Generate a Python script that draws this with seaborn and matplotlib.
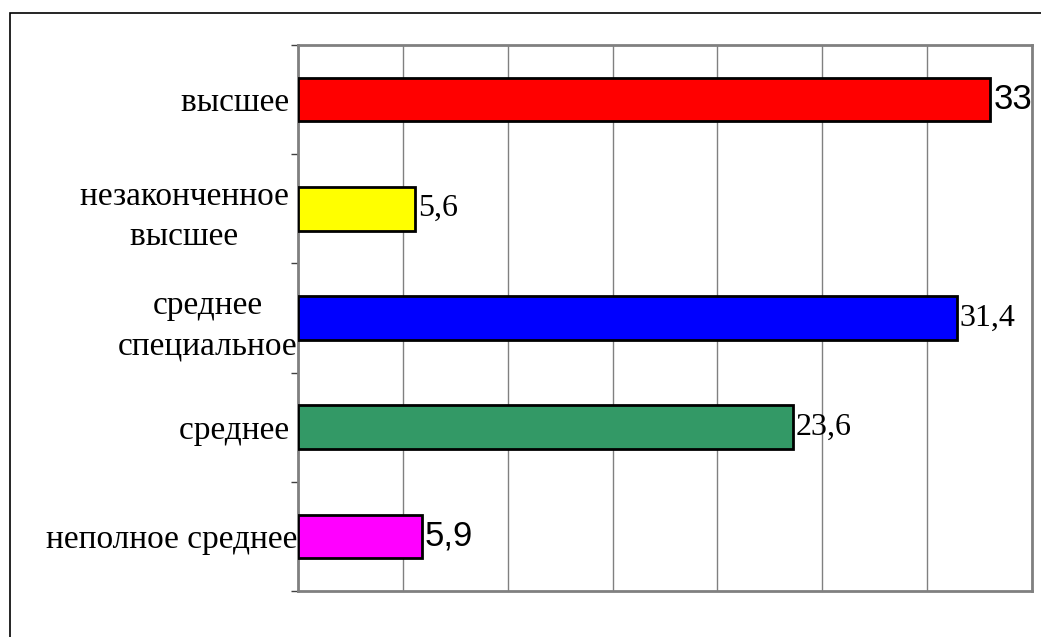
import matplotlib
matplotlib.use("Agg")
import matplotlib.pyplot as plt
import seaborn as sns
import pandas as pd
from matplotlib.patches import Rectangle
from matplotlib.ticker import MultipleLocator

categories = ["высшее ", "незаконченное \nвысшее ", "среднее\nспециальное", "среднее ", "неполное среднее"]
values = [33, 5.6, 31.4, 23.6, 5.9]
value_labels = ["33", "5,6", "31,4", "23,6", "5,9"]
label_fonts = ["Liberation Sans", "Liberation Serif", "Liberation Serif", "Liberation Serif", "Liberation Sans"]
label_sizes = [25, 23, 23, 23, 25]
colors = ["#FF0000", "#FFFF00", "#0000FF", "#339966", "#FF00FF"]

df = pd.DataFrame({"category": categories, "value": values})

sns.set_theme(style="white")
plt.rcParams["font.family"] = ["Liberation Serif", "DejaVu Serif"]

fig = plt.figure(figsize=(10.41, 6.37), dpi=100)
ax = fig.add_axes([298 / 1041, 1 - 591 / 637, (1032 - 298) / 1041, (591 - 45) / 637])

# outer frame of the chart area
fig.patches.append(Rectangle((10 / 1041, -0.1), 1.2, 1 - 13 / 637 + 0.1,
                             transform=fig.transFigure, fill=False,
                             edgecolor="black", linewidth=1.2))

sns.barplot(data=df, x="value", y="category", hue="category", palette=colors,
            legend=False, width=0.4, edgecolor="black", linewidth=2,
            saturation=1, ax=ax, zorder=3)

ax.set_xlim(0, 35)
ax.set_ylim(4.5, -0.5)
ax.xaxis.set_major_locator(MultipleLocator(5))
ax.grid(axis="x", color="#808080", linewidth=1, zorder=0)
ax.set_axisbelow(True)
ax.tick_params(axis="x", length=0, labelbottom=False)
ax.set_xlabel("")
ax.set_ylabel("")

ax.set_yticks(range(5))
ax.set_yticklabels(categories, fontsize=24, multialignment="center", linespacing=1.4)
ax.tick_params(axis="y", which="major", length=0, pad=0.5, labelcolor="black")
ax.set_yticks([i - 0.5 for i in range(6)], minor=True)
ax.tick_params(axis="y", which="minor", length=5, width=1, color="#404040", left=True)

for sp in ax.spines.values():
    sp.set_color("#808080")
    sp.set_linewidth(2)

for i, (v, t, f, s) in enumerate(zip(values, value_labels, label_fonts, label_sizes)):
    ax.text(v + 0.15, i, t, va="center", ha="left", fontsize=s,
            family=f, color="black", zorder=4)

fig.savefig("out.png", dpi=100)
